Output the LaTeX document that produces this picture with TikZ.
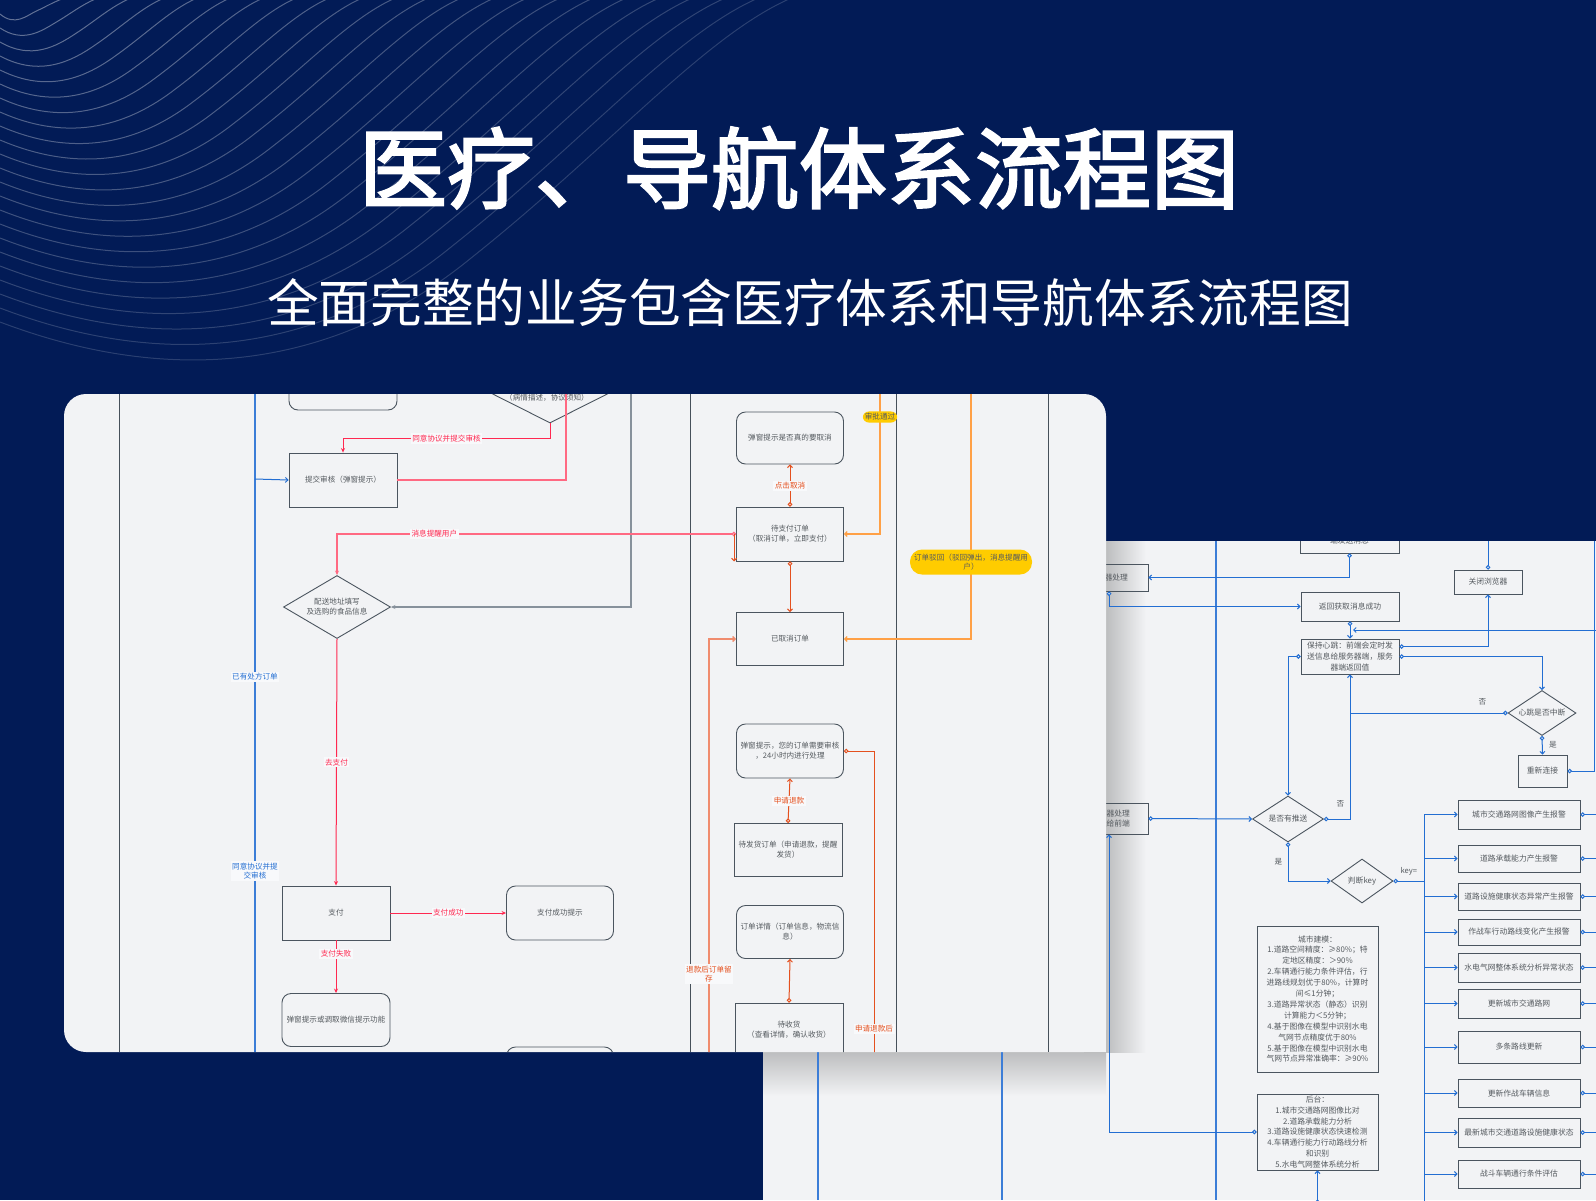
\documentclass[tikz,border=0pt]{standalone}
\usepackage{fontspec}
\setmainfont{Noto Sans CJK SC}
\newfontfamily\titlefont[FakeBold=2.5]{Noto Sans CJK SC}
\usepackage{tikz}
\usetikzlibrary{shapes.geometric,arrows.meta}

\definecolor{navy}{RGB}{2,27,86}
\definecolor{panel}{RGB}{242,243,245}
\definecolor{boxline}{RGB}{75,85,95}
\definecolor{boxtext}{RGB}{85,90,95}
\definecolor{laneline}{RGB}{70,80,90}
\definecolor{lanblue}{RGB}{60,125,215}
\definecolor{flowblue}{RGB}{35,110,210}
\definecolor{flowred}{RGB}{255,40,80}
\definecolor{flowpink}{RGB}{255,105,130}
\definecolor{flowgray}{RGB}{135,145,155}
\definecolor{floworange}{RGB}{255,160,70}
\definecolor{flowrust}{RGB}{228,80,30}
\definecolor{flowsalmon}{RGB}{240,140,110}
\definecolor{pill}{RGB}{255,204,0}
\definecolor{labbg}{RGB}{248,249,251}

\tikzset{
  box/.style={draw=boxline, line width=0.9pt, text=boxtext, align=center,
    font=\fontsize{7.6}{10}\selectfont, inner sep=1pt},
  rbox/.style={box, rounded corners=9pt},
  dia/.style={box, diamond, aspect=1.6, inner sep=0.5pt},
  backbox/.style={box, font=\fontsize{7.8}{10.9}\selectfont},
  boxtxt/.style={text=boxtext, font=\fontsize{7.6}{10}\selectfont},
  lab/.style={fill=labbg, inner sep=1.5pt, align=center, font=\fontsize{7.6}{9.5}\selectfont},
  pilllab/.style={fill=pill, rounded corners=6pt, inner sep=2pt, align=center,
    text=boxtext, font=\fontsize{7.6}{9.5}\selectfont},
  laneln/.style={draw=laneline, line width=0.8pt},
  bluelane/.style={draw=lanblue, line width=1.2pt},
  lred/.style={draw=flowred, line width=1pt},
  lpink/.style={draw=flowpink, line width=1.2pt},
  lgray/.style={draw=flowgray, line width=1.4pt},
  lorange/.style={draw=floworange, line width=1.1pt},
  lrust/.style={draw=flowrust, line width=1pt},
  lsalmon/.style={draw=flowsalmon, line width=1.3pt},
  lblue/.style={draw=flowblue, line width=1pt},
  arr/.style={-{Stealth[length=4.5pt,width=4pt]}},
  carr/.style={{Circle[length=4.5pt,fill=panel]}-{Stealth[length=4.5pt,width=4pt]}},
  barb/.style={-{Straight Barb[length=2.5pt,width=5pt]}},
  cbarb/.style={{Circle[length=4.5pt,fill=panel]}-{Straight Barb[length=2.5pt,width=5pt]}},
  cline/.style={{Circle[length=4.5pt,fill=panel]}-},
  wave/.style={draw=white, line width=1pt}
}

\begin{document}
\begin{tikzpicture}[x=1pt,y=-1pt]
  \useasboundingbox (0,0) rectangle (1596,1200);
  % Dessinez le fond
  \fill[navy] (0,0) rectangle (1596,1200);

  % Ajoutez les lignes ondulees
  \begin{scope}
    \clip (0,0) rectangle (1596,1200);
    \foreach \i in {0,...,22} {
      \pgfmathsetmacro{\a}{14+14*\i}
      \pgfmathsetmacro{\b}{60+33*\i}
      \pgfmathsetmacro{\op}{0.38-0.01*\i}
      \draw[wave, opacity=\op] (0,\a) .. controls (0.25*\b,1.2*\a+10) and (0.45*\b,1.1*\a) .. (0.6*\b,0.8*\a)
        .. controls (0.78*\b,0.45*\a) and (0.9*\b,0.1*\a) .. (\b+10,-4);
    }
  \end{scope}

  % Ajoutez les titres
  \node[text=white, font=\titlefont\fontsize{88}{100}\selectfont] (title) at (799,168) {医疗、导航体系流程图};
  \node[text=white, font=\fontsize{51.7}{60}\selectfont] (subtitle) at (810,303) {全面完整的业务包含医疗体系和导航体系流程图};

  % Dessinez le panneau arriere
  \begin{scope}
    \clip (763,541) rectangle (1596,1200);
    \fill[panel] (763,541) rectangle (1596,1200);
    \shade[top color=black!22!panel, bottom color=panel] (763,1052) rectangle (1106,1096);
    \shade[left color=black!22!panel, right color=panel] (1106,541) rectangle (1146,1052);

    % Ajoutez les couloirs
    \foreach \x in {818,1002,1216}
      \draw[bluelane] (\x,541) -- (\x,1200);

    % Dessinez les boites
    \node[backbox, minimum width=99pt, minimum height=26pt] (sendmsg) at (1349.5,540) {端发送消息};
    \node[backbox, minimum width=78pt, minimum height=27pt, text width=38pt, align=right] (srvproc) at (1109,577.5) {器处理};
    \node[backbox, minimum width=98pt, minimum height=29pt] (getok) at (1350,606.5) {返回获取消息成功};
    \node[backbox, minimum width=68pt, minimum height=24pt] (closebr) at (1488,582) {关闭浏览器};
    \node[backbox, minimum width=98pt, minimum height=35pt, inner sep=0pt] (heart) at (1350,656.5) {保持心跳：前端会定时发\\送信息给服务器端，服务\\器端返回值};
    \node[dia, font=\fontsize{7.8}{10}\selectfont, minimum width=68pt, minimum height=45pt] (beatdia) at (1542,713) {心跳是否中断};
    \node[backbox, minimum width=49pt, minimum height=32pt] (reconn) at (1542.5,771) {重新连接};
    \node[backbox, minimum width=78pt, minimum height=31pt, text width=42pt, align=right] (srvproc2) at (1109,818.5) {器处理\\送给前端};
    \node[dia, font=\fontsize{7.8}{10}\selectfont, minimum width=71pt, minimum height=46pt] (pushdia) at (1288,819) {是否有推送};
    \node[dia, font=\fontsize{7.8}{10}\selectfont, minimum width=62pt, minimum height=44pt] (keydia) at (1362,881) {判断key};
    \node[backbox, minimum width=121pt, minimum height=146pt] (model) at (1317.5,999) {城市建模：\\1.道路空间精度：≥80\%；特\\定地区精度：＞90\%\\2.车辆通行能力条件评估，行\\进路线规划优于80\%，计算时\\间≤1分钟；\\3.道路异常状态（静态）识别\\计算能力＜5分钟；\\4.基于图像在模型中识别水电\\气网节点精度优于80\%\\5.基于图像在模型中识别水电\\气网节点异常准确率：≥90\%};
    \node[backbox, minimum width=121pt, minimum height=76pt, inner sep=0pt] (backend) at (1317.5,1132) {后台：\\1.城市交通路网图像比对\\2.道路承载能力分析\\3.道路设施健康状态快速检测\\4.车辆通行能力行动路线分析\\和识别\\5.水电气网整体系统分析};

    % Reliez les boites
    \coordinate (closeTop) at (1488,535);
    \coordinate (rightTop) at (1594,535);
    \coordinate (rightIn) at (1600,630);
    \coordinate (heartIn) at (1353,630);
    \coordinate (pushJoin) at (1350,713);
    \coordinate (busTop) at (1424,814);
    \coordinate (busBot) at (1424,1205);
    \coordinate (rightEdge) at (1600,0);
    \coordinate (backIn) at (1317.5,1204);
    \draw[lblue, cbarb] (sendmsg.south) |- (srvproc.east);
    \draw[lblue, cbarb] (srvproc.south) |- (getok.west);
    \draw[lblue, cbarb] (getok.south) -- (heart.north);
    \draw[lblue, cline] (closebr.north) -- (closeTop);
    \draw[lblue, cbarb] ([yshift=10pt]heart.east) -| (closebr.south);
    \draw[lblue, cbarb] (heart.east) -| (beatdia.north);
    \draw[lblue, barb] (rightIn) -- (heartIn);
    \draw[lblue, cbarb] (beatdia.west) -| (heart.south)
      node[pos=0.08, above=4pt, boxtxt] {否};
    \draw[lblue, cbarb] (beatdia.south) -- (reconn.north)
      node[midway, right=3pt, boxtxt] {是};
    \draw[lblue, cline] (reconn.east) -| (rightTop);
    \draw[lblue, cbarb] (heart.west) -| (pushdia.north);
    \draw[lblue, cline] (pushdia.east) -| (pushJoin)
      node[pos=0.57, left=2pt, boxtxt] {否};
    \draw[lblue, cbarb] (srvproc2.east) -- (pushdia.west);
    \draw[lblue, cbarb] (pushdia.south) |- (keydia.west)
      node[pos=0.25, left=2pt, boxtxt] {是};
    \draw[lblue] (busTop) -- (busBot);
    \draw[lblue, cline] (keydia.east) -- (keydia.east -| busTop)
      node[midway, above=2pt, boxtxt] {key=};
    \draw[lblue, cbarb] (backend.west) -| (srvproc2.south);
    \draw[lblue, cbarb] (backIn) -- (backend.south);

    % Ajoutez les alertes
    \foreach \n/\y/\h/\t in {1/814.5/29/城市交通路网图像产生报警, 2/858.5/27/道路承载能力产生报警,
        3/896.5/27/道路设施健康状态异常产生报警, 4/932/26/作战车行动路线变化产生报警,
        5/967.5/29/水电气网整体系统分析异常状态, 6/1003.5/29/更新城市交通路网,
        7/1047/32/多条路线更新, 8/1093/28/更新作战车辆信息,
        9/1132.5/29/最新城市交通道路设施健康状态, 10/1174/28/战斗车辆通行条件评估} {
      \node[backbox, minimum width=122pt, minimum height=\h pt] (al\n) at (1519,\y) {\t};
      \draw[lblue, barb] (al\n.west -| busTop) -- (al\n.west);
      \draw[lblue, cline] (al\n.east) -- (al\n.east -| rightEdge);
    }
  \end{scope}

  % Dessinez le panneau avant
  \fill[panel, rounded corners=22pt] (64,394) rectangle (1106,1052);
  \begin{scope}
    \clip[rounded corners=22pt] (64,394) rectangle (1106,1052);

    % Ajoutez les couloirs
    \foreach \x in {119,690,896,1048}
      \draw[laneln] (\x,394) -- (\x,1052);
    \draw[bluelane] (255,394) -- (255,1052);

    % Dessinez les boites de gauche
    \node[rbox, minimum width=108pt, minimum height=54pt] (topnote) at (343,383) {};
    \node[dia, minimum width=230pt, minimum height=116pt] (topdia) at (550,365) {};
    \node[boxtxt] (topdiatext) at (547,398) {（病情描述，协议须知）};
    \node[box, minimum width=108pt, minimum height=54pt] (audit) at (343,480) {提交审核（弹窗提示）};
    \node[dia, minimum width=107pt, minimum height=63pt] (addr) at (337,607) {配送地址填写\\及选购的食品信息};
    \node[box, minimum width=108pt, minimum height=54pt] (pay) at (336,913) {支付};
    \node[rbox, minimum width=107pt, minimum height=54pt] (payok) at (560,913) {支付成功提示};
    \node[rbox, minimum width=108pt, minimum height=53pt] (payfail) at (336,1020) {弹窗提示或调取微信提示功能};
    \node[rbox, minimum width=107pt, minimum height=54pt] (botnote) at (560,1074) {};

    % Dessinez les boites du milieu
    \node[rbox, minimum width=107pt, minimum height=52pt] (askcancel) at (790,438) {弹窗提示是否真的要取消};
    \node[box, minimum width=107pt, minimum height=54pt] (unpaid) at (790,534) {待支付订单\\（取消订单，立即支付）};
    \node[box, minimum width=107pt, minimum height=53pt] (cancelled) at (790,639) {已取消订单};
    \node[rbox, minimum width=107pt, minimum height=54pt] (review) at (790,751) {弹窗提示，您的订单需要审核\\，24小时内进行处理};
    \node[box, minimum width=108pt, minimum height=53pt] (toship) at (788,850) {待发货订单（申请退款，提醒\\发货）};
    \node[rbox, minimum width=107pt, minimum height=53pt] (detail) at (790,932) {订单详情（订单信息，物流信\\息）};
    \node[box, minimum width=108pt, minimum height=54pt] (toget) at (789,1030) {待收货\\（查看详情，确认收货）};

    % Reliez les boites
    \coordinate (laneA) at (255,479);
    \coordinate (pinkTop) at (566,390);
    \coordinate (grayTop) at (631,390);
    \coordinate (okTop) at (880,390);
    \coordinate (rejTop) at (971,390);
    \coordinate (refundBot) at (709,1060);
    \coordinate (refBot) at (874,1060);
    \draw[lblue, barb] (laneA) -- (audit.west);
    \draw[lred, arr] (topdia.south) -- ++(0,15) -| (audit.north)
      node[lab, text=flowred, pos=0.25] {同意协议并提交审核};
    \draw[lpink] (audit.east) -| (pinkTop);
    \draw[lgray, arr] (grayTop) |- (addr.east);
    \draw[lpink, carr] (unpaid.west) -| (addr.north)
      node[lab, text=flowred, pos=0.378] {消息提醒用户};
    \draw[lred, arr] (addr.south) -- (pay.north)
      node[lab, text=flowred, midway] {去支付};
    \draw[lred, arr] (pay.east) -- (payok.west)
      node[lab, text=flowred, midway] {支付成功};
    \draw[lred, arr] (pay.south) -- (payfail.north)
      node[lab, text=flowred, pos=0.25] {支付失败};
    \draw[lrust, cbarb] (unpaid.north) -- (askcancel.south)
      node[lab, text=flowrust, midway] {点击取消};
    \draw[lorange, barb] (okTop) |- (unpaid.east);
    \node[pilllab] (okpill) at (880,417) {审批通过};
    \draw[lrust, barb] ([xshift=-2pt]unpaid.west) -- ([xshift=-2pt]unpaid.south west);
    \draw[lrust, cbarb] (unpaid.south) -- (cancelled.north);
    \draw[lorange, barb] (rejTop) |- (cancelled.east);
    \node[pilllab, rounded corners=12pt, minimum width=122pt, minimum height=25pt] (rejpill) at (971,562) {订单驳回（驳回弹出，消息提醒用\\户）};
    \draw[lsalmon, barb] (refundBot) |- (cancelled.west)
      node[lab, text=flowrust, pos=0.102] {退款后订单留\\存};
    \draw[lrust, cbarb] (toship.north) -- (review.south)
      node[lab, text=flowrust, midway] {申请退款};
    \draw[lrust, cbarb] (toget.north) -- (detail.south);
    \draw[lrust, cline] (review.east) -| (refBot)
      node[lab, text=flowrust, pos=0.95] {申请退款后};

    % Ajoutez les etiquettes du couloir bleu
    \node[lab, text=flowblue] (lbl1) at (255,677) {已有处方订单};
    \node[lab, text=flowblue] (lbl2) at (255,871) {同意协议并提\\交审核};
  \end{scope}
\end{tikzpicture}
\end{document}
